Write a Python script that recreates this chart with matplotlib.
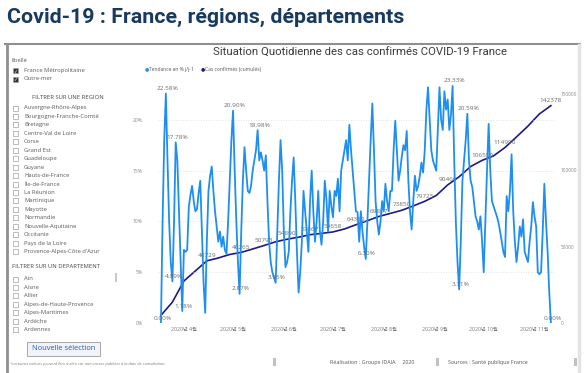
import matplotlib
matplotlib.use("Agg")
import matplotlib.pyplot as plt
from matplotlib.patches import Rectangle
from matplotlib.lines import Line2D
import pandas as pd

W, H = 585, 373

# ---- data ----
start_date = "2020-03-18"
tendance_pct = [
    0.00, 10, 18, 22.58, 16, 10, 6, 4.09, 10, 17.78,
    16, 11, 6, 1.18, 7.2, 7.0, 7.2, 11.4, 12.6, 13.5,
    12, 11, 11.2, 12.8, 14, 9, 4, 1.0, 8, 13,
    14.5, 15.4, 13, 11, 9.5, 8, 9, 7.5, 8.5, 7.2,
    6.8, 10, 14, 18, 20.90, 15, 10, 6, 2.87, 9,
    14, 17.3, 15, 13, 12.8, 13.5, 15, 16, 17, 18.98,
    16, 16.8, 16, 15, 16.5, 12, 8, 6, 5, 4.5,
    3.95, 9, 14, 18, 15, 9, 5.5, 6, 7, 11,
    14, 16.3, 12, 7, 3, 5, 8, 13, 11, 9,
    7, 12, 15, 11, 8, 10, 13, 9, 7.7, 10,
    14, 12.2, 9, 13, 11.5, 10.4, 13, 12.5, 14.2, 11,
    15, 16, 17, 18, 16, 19.5, 17, 15, 13, 11,
    10.9, 8, 11, 9, 7.5, 6.30, 10, 14, 18, 21.6,
    17, 12, 10, 8.7, 10, 12, 11, 13.7, 12, 11,
    13, 13, 17, 19.9, 17, 14, 15, 16.4, 17.5, 17,
    18.9, 14, 11, 9.2, 12, 14.5, 13, 13.5, 14.5, 15.8,
    14.8, 17, 21, 23.2, 20, 17, 16, 15.5, 15, 19,
    23.2, 20, 19, 22.8, 21, 22, 19, 20.5, 23.33, 16,
    9.9, 6, 3.31, 8, 14, 16, 18, 20.59, 16, 14,
    13.4, 12, 10.5, 10, 9.2, 10.5, 8, 5, 10, 15,
    19.6, 15, 12, 11.5, 11, 10.5, 9.9, 9, 8, 7,
    6.5, 12.5, 11, 13, 16.6, 11, 8, 6, 7.5, 9.5,
    8.5, 10.2, 7, 6.5, 6, 8, 9.5, 11.9, 10.5, 9.5,
    5, 4.8, 5, 9, 13.7, 10, 7, 3, 0.00,
]
pct_label_idx = [0, 3, 7, 9, 13, 44, 48, 59, 70, 125, 178, 182, 187, 238]

cumul_dates = [
    "2020-03-18", "2020-03-25", "2020-04-01", "2020-04-08", "2020-04-15",
    "2020-04-22", "2020-04-29", "2020-05-06", "2020-05-13", "2020-05-20",
    "2020-05-27", "2020-06-03", "2020-06-10", "2020-06-17", "2020-06-24",
    "2020-07-01", "2020-07-08", "2020-07-15", "2020-07-22", "2020-07-29",
    "2020-08-05", "2020-08-12", "2020-08-19", "2020-08-26", "2020-09-02",
    "2020-09-09", "2020-09-16", "2020-09-23", "2020-09-30", "2020-10-07",
    "2020-10-14", "2020-10-21", "2020-10-28", "2020-11-04", "2020-11-11",
]
cumul_cases = [
    5000, 13700, 27500, 34100, 40729,
    42600, 44900, 46265, 48500, 50793,
    53200, 54890, 56200, 57867, 58700,
    59658, 61600, 64380, 67000, 69807,
    71800, 73850, 76700, 79725, 83500,
    90466, 95800, 102500, 106550, 109500,
    114990, 121900, 129000, 137000, 142378,
]
cumul_label_idx = [4, 7, 9, 11, 13, 15, 17, 19, 21, 23, 25, 28, 30, 34]

month_ticks = ["2020-04-01", "2020-05-01", "2020-06-01", "2020-07-01",
               "2020-08-01", "2020-09-01", "2020-10-01", "2020-11-01"]
month_labels = ["2020년 4월", "2020년 5월", "2020년 6월", "2020년 7월",
                "2020년 8월", "2020년 9월", "2020년 10월", "2020년 11월"]

territoires = ["France Métropolitaine", "Outre-mer"]
regions = ["Auvergne-Rhône-Alpes", "Bourgogne-Franche-Comté", "Bretagne",
           "Centre-Val de Loire", "Corse", "Grand Est", "Guadeloupe", "Guyane",
           "Hauts-de-France", "Île-de-France", "La Réunion", "Martinique",
           "Mayotte", "Normandie", "Nouvelle-Aquitaine", "Occitanie",
           "Pays de la Loire", "Provence-Alpes-Côte d'Azur"]
departements = ["Ain", "Aisne", "Allier", "Alpes-de-Haute-Provence",
                "Alpes-Maritimes", "Ardèche", "Ardennes"]

# ---- style ----
BLUE = "#1e8fef"
NAVY = "#1c1c84"
GREY_TXT = "#6b6b6b"
plt.rcParams["font.family"] = ["Open Sans", "Noto Sans CJK KR", "DejaVu Sans"]


def fx(x):
    return x / W


def fy(y):
    return 1 - y / H


fig = plt.figure(figsize=(W / 100, H / 100), dpi=100)
fig.patch.set_facecolor("white")

# header
fig.text(fx(7), fy(17), "Covid-19 : France, régions, départements",
         family="Roboto", weight="bold", fontsize=15.4, color="#173a5e",
         va="center", ha="left")

# frame around the report
fig.add_artist(Line2D([fx(5), fx(580)], [fy(44), fy(44)], color="#8f8f8f", lw=1.5))
fig.add_artist(Line2D([fx(6.5), fx(6.5)], [fy(44), fy(373)], color="#8f8f8f", lw=2))
fig.add_artist(Line2D([fx(579), fx(579)], [fy(45), fy(373)], color="#e3e3e3", lw=2.5))

# ---- slicers panel ----
def checkbox(y, label, checked=False):
    fig.add_artist(Rectangle((fx(13), fy(y + 2.5)), 5 / W, 5 / H,
                             facecolor="#333333" if checked else "white",
                             edgecolor="#a0a0a0", lw=0.5))
    if checked:
        fig.text(fx(15.5), fy(y), "✓", color="white", fontsize=3.5,
                 ha="center", va="center", family="DejaVu Sans")
    fig.text(fx(24), fy(y), label, fontsize=4.2,
             color="#5a5a5a", va="center", ha="left")


fig.text(fx(12), fy(61), "libellé", fontsize=4.1,
         color="#555555", va="center")
for i, t in enumerate(territoires):
    checkbox(70.5 + i * 8.5, t, checked=True)

fig.text(fx(68), fy(97.5), "FILTRER SUR UNE REGION", fontsize=4.2,
         color="#444444", va="center", ha="center")
for i, r in enumerate(regions):
    checkbox(108 + i * 8.45, r)

fig.text(fx(12), fy(267), "FILTRER SUR UN DEPARTEMENT", fontsize=4.2,
         color="#444444", va="center", ha="left")
for i, d in enumerate(departements):
    checkbox(279 + i * 8.45, d)
fig.add_artist(Rectangle((fx(114.5), fy(282)), 2 / W, 9 / H,
                         facecolor="#c8c8c8", edgecolor="none"))

fig.add_artist(Rectangle((fx(27), fy(356)), 73 / W, 14 / H,
                         facecolor="#f0f3fa", edgecolor="#9a9a9a", lw=0.6))
fig.text(fx(63.5), fy(349), "Nouvelle sélection", fontsize=5.4,
         color="#2c5aa0", ha="center", va="center")

fig.text(fx(10), fy(364.5),
         "*certaines valeurs peuvent être à zéro car non encore publiées à la date de consultation.",
         fontsize=2.9, style="italic", color="#777777", va="center")
for xb in (274, 437, 575):
    fig.add_artist(Rectangle((fx(xb - 1), fy(366)), 2.5 / W, 8 / H,
                             facecolor="#c0c0c0", edgecolor="none"))
fig.text(fx(330), fy(362.5), "Réalisation : Groupe IDAIA     2020",
         fontsize=3.9, color="#555555", va="center")
fig.text(fx(448), fy(362.5), "Sources : Santé publique France",
         fontsize=3.9, color="#555555", va="center")

# ---- chart ----
fig.text(fx(360), fy(53), "Situation Quotidienne des cas confirmés COVID-19 France",
         family="Roboto", fontsize=8.2, color="#3a3a3a", ha="center", va="center")
fig.text(fx(145), fy(69), "●", color=BLUE, fontsize=3.5, va="center",
         family="DejaVu Sans")
fig.text(fx(149), fy(69), "Tendance en % j/j-1", fontsize=3.6,
         color="#555555", va="center")
fig.text(fx(200.5), fy(69), "●", color=NAVY, fontsize=3.5, va="center",
         family="DejaVu Sans")
fig.text(fx(205), fy(69), "Cas confirmés (cumulés)", fontsize=3.6,
         color="#555555", va="center")

ax_l, ax_r, ax_t, ax_b = 158, 555, 69, 323
ax = fig.add_axes([fx(ax_l), fy(ax_b), (ax_r - ax_l) / W, (ax_b - ax_t) / H])
ax2 = ax.twinx()

days = pd.date_range(start_date, periods=len(tendance_pct), freq="D")
cdates = pd.to_datetime(cumul_dates)

ax.plot(days, tendance_pct, color=BLUE, lw=1.3, zorder=3, solid_joinstyle="round")
ax2.plot(cdates, cumul_cases, color=NAVY, lw=1.2, zorder=4)

ax.set_ylim(0, 25)
ax2.set_ylim(0, 166400)
ax.set_xlim(days[0] - pd.Timedelta(days=1.8), days[-1] + pd.Timedelta(days=2.5))

ax.set_yticks([0, 5, 10, 15, 20])
ax.set_yticklabels(["0%", "5%", "10%", "15%", "20%"])
ax2.set_yticks([0, 50000, 100000, 150000])
ax2.set_yticklabels(["0", "50000", "100000", "150000"])
ax.set_xticks(pd.to_datetime(month_ticks))
ax.set_xticklabels(month_labels)
ax.tick_params(axis="x", length=0, pad=3, labelsize=3.7, labelcolor="#777777")
ax.tick_params(axis="y", length=0, pad=11, labelsize=3.6, labelcolor="#888888")
ax2.tick_params(axis="y", length=0, pad=4, labelsize=3.4, labelcolor="#888888")

ax.grid(axis="y", color="#d9d9d9", lw=0.6, linestyle=(0, (1, 2)))
for a in (ax, ax2):
    for s in a.spines.values():
        s.set_visible(False)
ax.set_zorder(2)
ax2.set_zorder(1)
ax.patch.set_visible(False)

for i in pct_label_idx:
    ax.annotate(f"{tendance_pct[i]:.2f}%", (days[i], tendance_pct[i]),
                xytext=(1, 1.8), textcoords="offset points", ha="center",
                va="bottom", fontsize=4.6, color=GREY_TXT, zorder=6)
for i in cumul_label_idx:
    ax2.annotate(f"{cumul_cases[i]}", (cdates[i], cumul_cases[i]),
                 xytext=(0, 2), textcoords="offset points", ha="center",
                 va="bottom", fontsize=4.6, color=GREY_TXT, zorder=6)

fig.savefig("out.png", dpi=100, facecolor="white")
